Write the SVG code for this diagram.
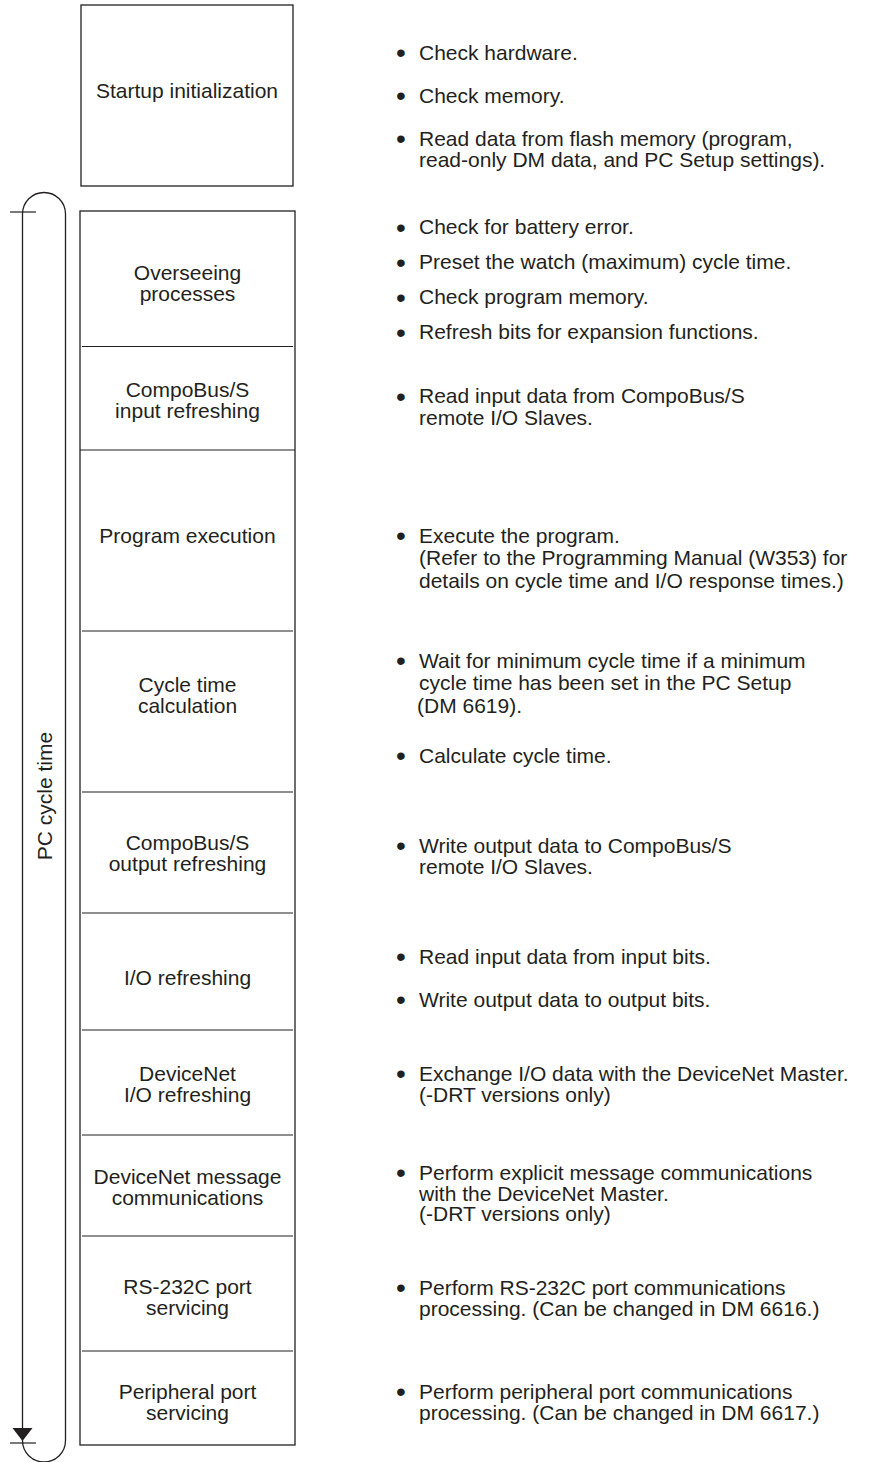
<svg xmlns="http://www.w3.org/2000/svg" width="877" height="1462" viewBox="0 0 877 1462">
<style>
  .box { fill: none; stroke: #231f20; stroke-width: 1.3; }
  .div { stroke: #231f20; stroke-width: 1.2; }
  .lbl { font-family: "Liberation Sans", Arial, sans-serif; font-size: 21px; fill: #231f20; text-anchor: middle; }
  .txt { font-family: "Liberation Sans", Arial, sans-serif; font-size: 21px; fill: #231f20; }
  .bul { font-family: "Liberation Sans", Arial, sans-serif; font-size: 28px; fill: #231f20; text-anchor: middle; }
  .br { fill: none; stroke: #231f20; stroke-width: 1.3; }
</style>
<rect width="877" height="1462" fill="#ffffff"/>

<g id="startup">
  <rect class="box" x="81" y="5" width="212" height="181"/>
  <text class="lbl" x="187" y="97.5">Startup initialization</text>
  <text class="bul" x="401" y="62">•</text><text class="txt" x="419" y="59.5">Check hardware.</text>
  <text class="bul" x="401" y="105">•</text><text class="txt" x="419" y="102.5">Check memory.</text>
  <text class="bul" x="401" y="148">•</text><text class="txt" x="419" y="145.5">Read data from flash memory (program,</text>
  <text class="txt" x="419" y="166.5">read-only DM data, and PC Setup settings).</text>
</g>

<g id="cycle-box">
  <rect class="box" x="80" y="211" width="215" height="1234"/>
</g>

<g id="overseeing">
  <text class="lbl" x="187.5" y="280">Overseeing</text>
  <text class="lbl" x="187.5" y="301">processes</text>
  <text class="bul" x="401" y="236.5">•</text><text class="txt" x="419" y="234">Check for battery error.</text>
  <text class="bul" x="401" y="271.5">•</text><text class="txt" x="419" y="269">Preset the watch (maximum) cycle time.</text>
  <text class="bul" x="401" y="306.5">•</text><text class="txt" x="419" y="304">Check program memory.</text>
  <text class="bul" x="401" y="341.5">•</text><text class="txt" x="419" y="339">Refresh bits for expansion functions.</text>
</g>

<g id="compobus-input">
  <line class="div" x1="82" y1="346.5" x2="293" y2="346.5"/>
  <text class="lbl" x="187.5" y="397">CompoBus/S</text>
  <text class="lbl" x="187.5" y="418">input refreshing</text>
  <text class="bul" x="401" y="405.5">•</text><text class="txt" x="419" y="403">Read input data from CompoBus/S</text>
  <text class="txt" x="419" y="424.5">remote I/O Slaves.</text>
</g>

<g id="program-execution">
  <line class="div" x1="80" y1="450" x2="295" y2="450"/>
  <text class="lbl" x="187.5" y="543">Program execution</text>
  <text class="bul" x="401" y="545">•</text><text class="txt" x="419" y="542.5">Execute the program.</text>
  <text class="txt" x="419" y="565">(Refer to the Programming Manual (W353) for</text>
  <text class="txt" x="419" y="588">details on cycle time and I/O response times.)</text>
</g>

<g id="cycle-time-calc">
  <line class="div" x1="82" y1="631" x2="293" y2="631"/>
  <text class="lbl" x="187.5" y="692">Cycle time</text>
  <text class="lbl" x="187.5" y="713">calculation</text>
  <text class="bul" x="401" y="670">•</text><text class="txt" x="419" y="667.5">Wait for minimum cycle time if a minimum</text>
  <text class="txt" x="419" y="689.5">cycle time has been set in the PC Setup</text>
  <text class="txt" x="417" y="713">(DM 6619).</text>
  <text class="bul" x="401" y="765">•</text><text class="txt" x="419" y="762.5">Calculate cycle time.</text>
</g>

<g id="compobus-output">
  <line class="div" x1="82" y1="792" x2="293" y2="792"/>
  <text class="lbl" x="187.5" y="850">CompoBus/S</text>
  <text class="lbl" x="187.5" y="871">output refreshing</text>
  <text class="bul" x="401" y="855">•</text><text class="txt" x="419" y="852.5">Write output data to CompoBus/S</text>
  <text class="txt" x="419" y="874">remote I/O Slaves.</text>
</g>

<g id="io-refreshing">
  <line class="div" x1="82" y1="913" x2="293" y2="913"/>
  <text class="lbl" x="187.5" y="984.5">I/O refreshing</text>
  <text class="bul" x="401" y="966">•</text><text class="txt" x="419" y="963.5">Read input data from input bits.</text>
  <text class="bul" x="401" y="1009">•</text><text class="txt" x="419" y="1006.5">Write output data to output bits.</text>
</g>

<g id="devicenet-io">
  <line class="div" x1="82" y1="1030" x2="293" y2="1030"/>
  <text class="lbl" x="187.5" y="1080.5">DeviceNet</text>
  <text class="lbl" x="187.5" y="1101.5">I/O refreshing</text>
  <text class="bul" x="401" y="1083">•</text><text class="txt" x="419" y="1080.5">Exchange I/O data with the DeviceNet Master.</text>
  <text class="txt" x="419" y="1101.5">(-DRT versions only)</text>
</g>

<g id="devicenet-msg">
  <line class="div" x1="82" y1="1135" x2="293" y2="1135"/>
  <text class="lbl" x="187.5" y="1183.5">DeviceNet message</text>
  <text class="lbl" x="187.5" y="1204.5">communications</text>
  <text class="bul" x="401" y="1182">•</text><text class="txt" x="419" y="1179.5">Perform explicit message communications</text>
  <text class="txt" x="419" y="1200.5">with the DeviceNet Master.</text>
  <text class="txt" x="419" y="1221">(-DRT versions only)</text>
</g>

<g id="rs232c">
  <line class="div" x1="82" y1="1236" x2="293" y2="1236"/>
  <text class="lbl" x="187.5" y="1293.5">RS-232C port</text>
  <text class="lbl" x="187.5" y="1314.5">servicing</text>
  <text class="bul" x="401" y="1297">•</text><text class="txt" x="419" y="1294.5">Perform RS-232C port communications</text>
  <text class="txt" x="419" y="1315.5">processing. (Can be changed in DM 6616.)</text>
</g>

<g id="peripheral">
  <line class="div" x1="82" y1="1351" x2="293" y2="1351"/>
  <text class="lbl" x="187.5" y="1398.5">Peripheral port</text>
  <text class="lbl" x="187.5" y="1419.5">servicing</text>
  <text class="bul" x="401" y="1401">•</text><text class="txt" x="419" y="1398.5">Perform peripheral port communications</text>
  <text class="txt" x="419" y="1419.5">processing. (Can be changed in DM 6617.)</text>
</g>

<g id="connectors">
  <path class="br" d="M22.5,1440.5 V214 A21.5,21.5 0 0 1 65.5,214 V1440.5 A21.5,21.5 0 0 1 22.5,1440.5"/>
  <line class="div" x1="10" y1="212" x2="36" y2="212"/>
  <line class="div" x1="10" y1="1443" x2="36" y2="1443"/>
  <polygon points="12.5,1428 32.5,1428 22.5,1441" fill="#231f20"/>
  <text class="lbl" transform="translate(51.5,796) rotate(-90)" x="0" y="0">PC cycle time</text>
</g>
</svg>
